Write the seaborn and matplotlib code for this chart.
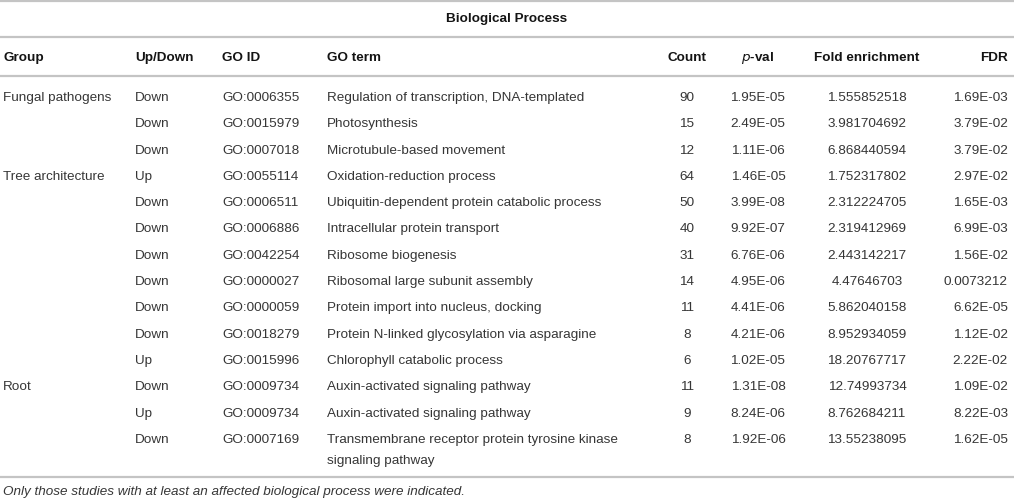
import matplotlib
matplotlib.use("Agg")
import matplotlib.pyplot as plt
import seaborn as sns

sns.set_theme(style="white")
plt.rcParams['font.family'] = ['Liberation Sans', 'DejaVu Sans']

title = "Biological Process"
headers = ["Group", "Up/Down", "GO ID", "GO term", "Count", "$\\it{p}$-val", "Fold enrichment", "FDR"]
groups = ["Fungal pathogens", "", "", "Tree architecture", "", "", "", "", "", "", "", "Root", "", ""]
updown = ["Down", "Down", "Down", "Up", "Down", "Down", "Down", "Down", "Down", "Down", "Up", "Down", "Up", "Down"]
go_ids = ["GO:0006355", "GO:0015979", "GO:0007018", "GO:0055114", "GO:0006511", "GO:0006886",
          "GO:0042254", "GO:0000027", "GO:0000059", "GO:0018279", "GO:0015996", "GO:0009734",
          "GO:0009734", "GO:0007169"]
go_terms = ["Regulation of transcription, DNA-templated", "Photosynthesis", "Microtubule-based movement",
            "Oxidation-reduction process", "Ubiquitin-dependent protein catabolic process",
            "Intracellular protein transport", "Ribosome biogenesis", "Ribosomal large subunit assembly",
            "Protein import into nucleus, docking", "Protein N-linked glycosylation via asparagine",
            "Chlorophyll catabolic process", "Auxin-activated signaling pathway",
            "Auxin-activated signaling pathway",
            "Transmembrane receptor protein tyrosine kinase\nsignaling pathway"]
counts = [90, 15, 12, 64, 50, 40, 31, 14, 11, 8, 6, 11, 9, 8]
pvals = ["1.95E-05", "2.49E-05", "1.11E-06", "1.46E-05", "3.99E-08", "9.92E-07", "6.76E-06",
         "4.95E-06", "4.41E-06", "4.21E-06", "1.02E-05", "1.31E-08", "8.24E-06", "1.92E-06"]
fold = ["1.555852518", "3.981704692", "6.868440594", "1.752317802", "2.312224705", "2.319412969",
        "2.443142217", "4.47646703", "5.862040158", "8.952934059", "18.20767717", "12.74993734",
        "8.762684211", "13.55238095"]
fdr = ["1.69E-03", "3.79E-02", "3.79E-02", "2.97E-02", "1.65E-03", "6.99E-03", "1.56E-02",
       "0.0073212", "6.62E-05", "1.12E-02", "2.22E-02", "1.09E-02", "8.22E-03", "1.62E-05"]
footnote = "Only those studies with at least an affected biological process were indicated."

W, H = 1014, 502
fig = plt.figure(figsize=(W / 100, H / 100), dpi=100)
ax = fig.add_axes([0, 0, 1, 1])
ax.set_xlim(0, W)
ax.set_ylim(H, 0)
ax.axis("off")

line_color = "#c4c4c4"
body_color = "#363636"
head_color = "#141414"
fs = 9.7

# column positions and alignment
cols = [(3, "left"), (135, "left"), (222, "left"), (327, "left"),
        (687, "center"), (758, "center"), (867, "center"), (1008, "right")]

for yline in [1.5, 37.5, 77, 478]:
    ax.axhline(yline, xmin=0, xmax=1, color=line_color, lw=1.6)

ax.text(W / 2, 19, title, ha="center", va="center", fontsize=fs, fontweight="bold", color=head_color)

header_y = 58
for (x, ha), h in zip(cols, headers):
    ax.text(x, header_y, h, ha=ha, va="center", fontsize=fs, fontweight="bold", color=head_color)

row0, step, sub = 98, 26.3, 21
for i in range(len(updown)):
    y = row0 + i * step
    vals = [groups[i], updown[i], go_ids[i], go_terms[i], str(counts[i]), pvals[i], fold[i], fdr[i]]
    for (x, ha), v in zip(cols, vals):
        for k, part in enumerate(v.split("\n")):
            ax.text(x, y + k * sub, part, ha=ha, va="center", fontsize=fs, color=body_color)

ax.text(3, 492, footnote, ha="left", va="center", fontsize=fs, style="italic", color=body_color)

fig.savefig("out.png", dpi=100)
